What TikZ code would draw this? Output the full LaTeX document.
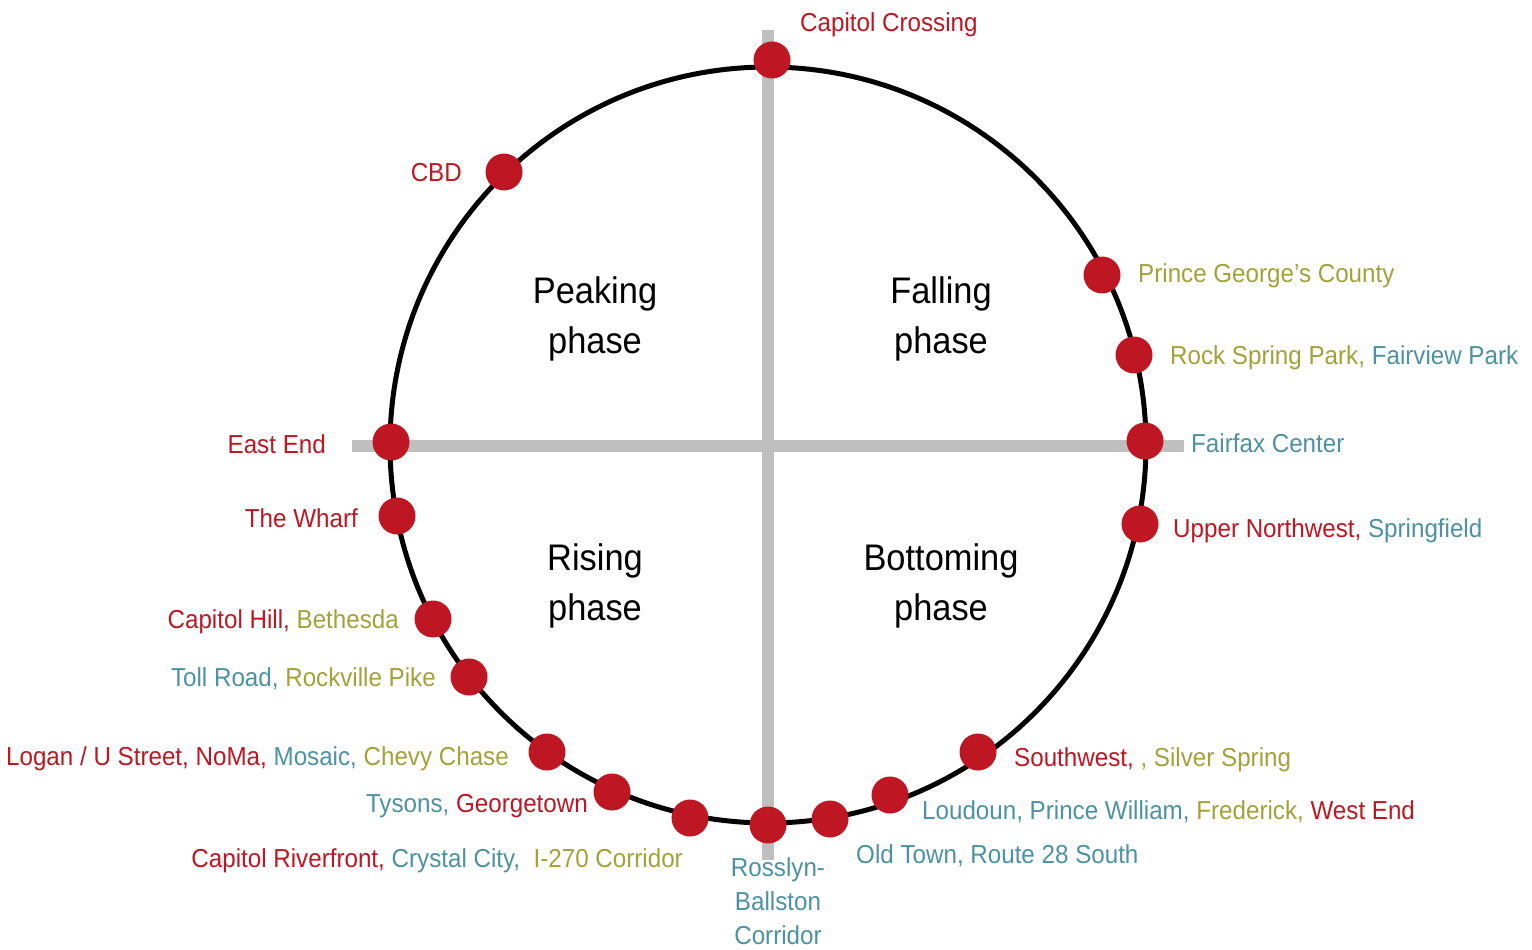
\documentclass[tikz,border=0pt]{standalone}
\usepackage{fontspec}
\setmainfont{Liberation Sans}[FakeStretch=0.93]
\definecolor{cred}{RGB}{190,22,34}
\definecolor{cteal}{RGB}{76,146,163}
\definecolor{colive}{RGB}{162,162,58}
\definecolor{cgray}{RGB}{191,191,191}
\tikzset{
  site/.style={circle, fill=cred, minimum size=37pt, inner sep=0pt},
  lbl/.style={inner sep=0pt, font=\fontsize{26}{30}\selectfont},
  phase/.style={inner sep=0pt, align=center, font=\fontsize{37}{50}\selectfont},
  axisline/.style={draw=cgray, line width=12pt},
  ring/.style={draw=black, line width=5pt},
}
\begin{document}
\begin{tikzpicture}[x=1pt,y=-1pt]
  \fill[white] (0,0) rectangle (1532,950);
  \useasboundingbox (0,0) rectangle (1532,950);

  % quadrant axes
  \coordinate (vtop) at (768,30);
  \coordinate (vbot) at (768,860);
  \coordinate (hleft) at (352,446);
  \coordinate (hright) at (1184,446);
  \draw[axisline] (vtop) -- (vbot);
  \draw[axisline] (hleft) -- (hright);

  % market cycle ring
  \coordinate (hub) at (768,445);
  \draw[ring] (hub) circle[radius=378pt];

  % phase names
  \node[phase] (peak) at (595,318.5) {Peaking\\phase};
  \node[phase] (fall) at (941,318.5) {Falling\\phase};
  \node[phase] (rise) at (595,585.5) {Rising\\phase};
  \node[phase] (bottom) at (941,585.5) {Bottoming\\phase};

  % submarkets on the ring
  \node[site] (s1) at (772,60) {};
  \node[site] (s2) at (504,172) {};
  \node[site] (s3) at (1102,275) {};
  \node[site] (s4) at (1134,355) {};
  \node[site] (s5) at (1145,441) {};
  \node[site] (s6) at (1140,524) {};
  \node[site] (s7) at (391,442) {};
  \node[site] (s8) at (397,516) {};
  \node[site] (s9) at (433,619) {};
  \node[site] (s10) at (469,677) {};
  \node[site] (s11) at (547,752) {};
  \node[site] (s12) at (612,792) {};
  \node[site] (s13) at (690,818) {};
  \node[site] (s14) at (768,825) {};
  \node[site] (s15) at (830,819) {};
  \node[site] (s16) at (890,795) {};
  \node[site] (s17) at (978,752) {};

  % submarket names
  \node[lbl, anchor=base west, text=cred] (l1) at (800,32) {Capitol Crossing};
  \node[lbl, anchor=base east, text=cred] (l2) at (462,181) {CBD};
  \node[lbl, anchor=base west, text=colive] (l3) at (1138,282) {Prince George’s County};
  \node[lbl, anchor=base west] (l4) at (1170,364) {\color{colive}Rock Spring Park, \color{cteal}Fairview Park};
  \node[lbl, anchor=base west, text=cteal] (l5) at (1191,452) {Fairfax Center};
  \node[lbl, anchor=base west] (l6) at (1173,537) {\color{cred}Upper Northwest, \color{cteal}Springfield};
  \node[lbl, anchor=base east, text=cred] (l7) at (326,453) {East End};
  \node[lbl, anchor=base east, text=cred] (l8) at (358,527) {The Wharf};
  \node[lbl, anchor=base east] (l9) at (399,628) {\color{cred}Capitol Hill, \color{colive}Bethesda};
  \node[lbl, anchor=base east] (l10) at (436,686) {\color{cteal}Toll Road, \color{colive}Rockville Pike};
  \node[lbl, anchor=base east] (l11) at (509,765) {\color{cred}Logan / U Street, NoMa, \color{cteal}Mosaic, \color{colive}Chevy Chase};
  \node[lbl, anchor=base east] (l12) at (588,812) {\color{cteal}Tysons, \color{cred}Georgetown};
  \node[lbl, anchor=base east] (l13) at (683,867) {\color{cred}Capitol Riverfront, \color{cteal}Crystal City,\ \ \color{colive}I-270 Corridor};
  \node[lbl, anchor=base west] (l14) at (1014,766) {\color{cred}Southwest, \color{colive}, Silver Spring};
  \node[lbl, anchor=base west] (l15) at (922,819) {\color{cteal}Loudoun, Prince William, \color{colive}Frederick, \color{cred}West End};
  \node[lbl, anchor=base west, text=cteal] (l16) at (856,863) {Old Town, Route 28 South};
  \node[lbl, align=center, text=cteal, font=\fontsize{26}{34}\selectfont] (l17) at (778,901.5) {Rosslyn-\\Ballston\\Corridor};
\end{tikzpicture}
\end{document}
